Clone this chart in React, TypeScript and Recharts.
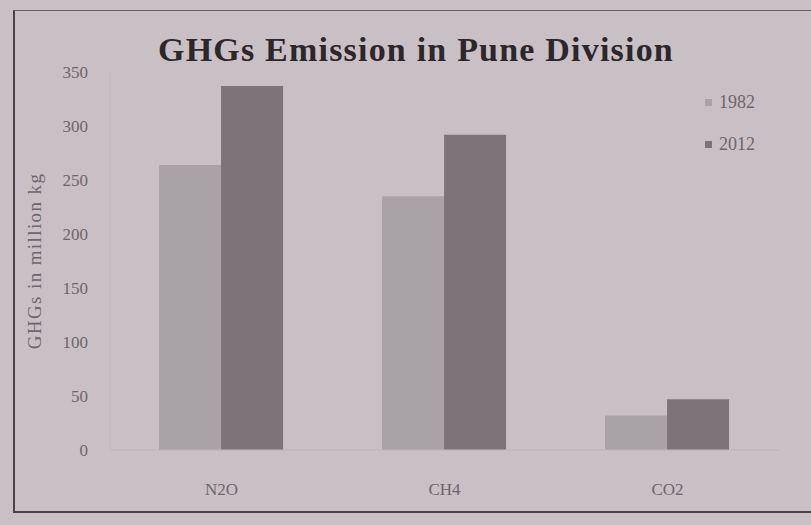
import React from "react";
import { BarChart, Bar, XAxis, YAxis } from "recharts";

const gases = ["N2O", "CH4", "CO2"];
const values1982 = [264, 235, 32];
const values2012 = [337, 292, 47];
const yTicks = [0, 50, 100, 150, 200, 250, 300, 350];
const seriesNames = ["1982", "2012"];
const seriesColors = ["#a9a2a7", "#7c7479"];

const data = gases.map((gas, i) => ({
  gas,
  y1982: values1982[i],
  y2012: values2012[i],
}));

const SERIF = '"Liberation Serif", "Times New Roman", serif';

export default function App() {
  return (
    <div style={{ position: "absolute", left: 0, top: 0, width: 811, height: 525, background: "#c8c0c5", overflow: "hidden" }}>
      <div
        style={{
          position: "absolute", left: 13, top: 10, width: 820, height: 500,
          borderLeft: "2px solid #4a4448", borderTop: "1px solid #6a6367", borderBottom: "2px solid #4a4448",
        }}
      />
      <div
        style={{
          position: "absolute", left: 0, width: 832, top: 31, textAlign: "center",
          fontFamily: SERIF, fontWeight: "bold", fontSize: 34, letterSpacing: 1.2, color: "#2c272a",
        }}
      >
        GHGs Emission in Pune Division
      </div>
      {/* legend */}
      <div style={{ position: "absolute", left: 705, top: 81 }}>
        {seriesNames.map((name, i) => (
          <div
            key={name}
            style={{ display: "flex", alignItems: "center", height: 42, fontFamily: SERIF, fontSize: 18, color: "#6e666b" }}
          >
            <span style={{ width: 7, height: 7, background: seriesColors[i], marginRight: 7, display: "inline-block" }} />
            {name}
          </div>
        ))}
      </div>
      <div style={{ position: "absolute", left: 0, top: 0 }}>
        <BarChart
          width={811}
          height={525}
          data={data}
          margin={{ top: 72, right: 32, bottom: 45, left: 0 }}
          barCategoryGap="22%"
          barGap={0}
        >
          <XAxis
            dataKey="gas"
            height={30}
            axisLine={{ stroke: "#bdb4ba" }}
            tickLine={false}
            tickMargin={27}
            tick={{ fontFamily: SERIF, fontSize: 17, fill: "#6e666b" }}
          />
          <YAxis
            width={110}
            domain={[0, 350]}
            ticks={yTicks}
            axisLine={{ stroke: "#bdb4ba" }}
            tickLine={false}
            tickMargin={16}
            tick={{ fontFamily: SERIF, fontSize: 17, fill: "#6e666b" }}
            label={{
              value: "GHGs in million kg", angle: -90, position: "insideLeft", offset: 34,
              style: { fontFamily: SERIF, fontSize: 19, letterSpacing: 1.4, fill: "#6e666b", textAnchor: "middle" },
            }}
          />
          <Bar dataKey="y1982" name={seriesNames[0]} fill={seriesColors[0]} isAnimationActive={false} />
          <Bar dataKey="y2012" name={seriesNames[1]} fill={seriesColors[1]} isAnimationActive={false} />
        </BarChart>
      </div>
    </div>
  );
}
